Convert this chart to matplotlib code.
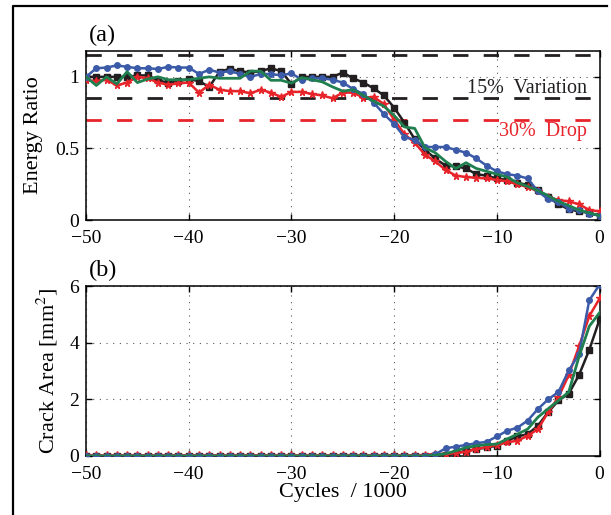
import numpy as np
import matplotlib
matplotlib.use('Agg')
import matplotlib.pyplot as plt
from matplotlib.lines import Line2D

plt.rcParams['font.family'] = ['Liberation Serif', 'DejaVu Serif']
plt.rcParams['mathtext.fontset'] = 'stix'

# Cycles / 1000
cycles = np.arange(-50, 1)

# (a) energy ratio
ratio_blue = [1.00, 1.06, 1.065, 1.08, 1.07, 1.06, 1.06, 1.055, 1.07, 1.065,
              1.065, 1.02, 1.05, 1.03, 1.04, 1.02, 1.00, 1.02, 1.02, 1.01,
              1.025, 0.98, 0.99, 0.99, 0.98, 0.96, 0.915, 0.88, 0.82, 0.74,
              0.67, 0.58, 0.56, 0.51, 0.51, 0.51, 0.49, 0.47, 0.43, 0.38,
              0.34, 0.32, 0.31, 0.29, 0.20, 0.145, 0.125, 0.08, 0.07, 0.045,
              0.03]
ratio_black = [1.00, 1.00, 1.00, 1.00, 1.00, 1.01, 1.01, 0.975, 0.96, 0.97,
               0.985, 0.97, 0.93, 1.036, 1.056, 1.04, 1.03, 1.04, 1.06, 1.04,
               0.95, 1.00, 1.00, 1.00, 1.00, 1.03, 0.99, 0.96, 0.92, 0.87,
               0.785, 0.68, 0.565, 0.49, 0.43, 0.38, 0.375, 0.36, 0.32, 0.31,
               0.29, 0.28, 0.26, 0.245, 0.21, 0.16, 0.11, 0.075, 0.06, 0.05,
               0.03]
ratio_red = [0.976, 0.97, 0.98, 0.94, 0.96, 1.00, 0.99, 0.96, 0.945, 0.955,
             0.96, 0.89, 0.945, 0.91, 0.90, 0.90, 0.885, 0.91, 0.89, 0.86,
             0.895, 0.895, 0.88, 0.87, 0.85, 0.89, 0.89, 0.855, 0.86, 0.81,
             0.70, 0.60, 0.54, 0.456, 0.41, 0.35, 0.31, 0.30, 0.295, 0.29,
             0.28, 0.27, 0.25, 0.23, 0.20, 0.16, 0.14, 0.13, 0.11, 0.07,
             0.06]
ratio_green = [1.00, 0.94, 1.00, 0.95, 1.036, 0.96, 0.985, 1.00, 0.98, 0.98,
               0.98, 0.99, 1.00, 0.99, 0.99, 0.99, 1.04, 1.04, 0.976, 0.976,
               0.956, 0.995, 0.98, 0.965, 0.93, 0.90, 0.91, 0.87, 0.83, 0.795,
               0.73, 0.65, 0.64, 0.505, 0.47, 0.41, 0.36, 0.40, 0.36, 0.34,
               0.32, 0.30, 0.26, 0.235, 0.205, 0.17, 0.13, 0.10, 0.07, 0.05,
               0.03]

# (b) crack area [mm^2]
area_blue = [0.0, 0.0, 0.0, 0.0, 0.0, 0.0, 0.0, 0.0, 0.0, 0.0,
             0.0, 0.0, 0.0, 0.0, 0.0, 0.0, 0.0, 0.0, 0.0, 0.0,
             0.0, 0.0, 0.0, 0.0, 0.0, 0.0, 0.0, 0.0, 0.0, 0.0,
             0.0, 0.0, 0.0, 0.0, 0.06, 0.27, 0.33, 0.39, 0.45, 0.50,
             0.69, 0.89, 1.00, 1.25, 1.66, 2.00, 2.26, 3.02, 3.60, 5.50,
             6.05]
area_red = [0.02, 0.02, 0.02, 0.02, 0.02, 0.02, 0.02, 0.02, 0.02, 0.02,
            0.02, 0.02, 0.02, 0.02, 0.02, 0.02, 0.02, 0.02, 0.02, 0.02,
            0.02, 0.02, 0.02, 0.02, 0.02, 0.02, 0.02, 0.02, 0.02, 0.02,
            0.02, 0.02, 0.03, 0.03, 0.08, 0.07, 0.10, 0.15, 0.24, 0.32,
            0.39, 0.48, 0.54, 0.71, 0.95, 1.55, 2.08, 2.86, 3.87, 4.94,
            5.56]
area_black = [0.0, 0.0, 0.0, 0.0, 0.0, 0.0, 0.0, 0.0, 0.0, 0.0,
              0.0, 0.0, 0.0, 0.0, 0.0, 0.0, 0.0, 0.0, 0.0, 0.0,
              0.0, 0.0, 0.0, 0.0, 0.0, 0.0, 0.0, 0.0, 0.0, 0.0,
              0.0, 0.0, 0.0, 0.0, 0.0, 0.03, 0.10, 0.18, 0.24, 0.30,
              0.36, 0.54, 0.69, 0.77, 1.07, 1.55, 1.96, 2.20, 2.86, 3.75,
              4.82]
area_green = [0.0, 0.0, 0.0, 0.0, 0.0, 0.0, 0.0, 0.0, 0.0, 0.0,
              0.0, 0.0, 0.0, 0.0, 0.0, 0.0, 0.0, 0.0, 0.0, 0.0,
              0.0, 0.0, 0.0, 0.0, 0.0, 0.0, 0.0, 0.0, 0.0, 0.0,
              0.0, 0.0, 0.0, 0.0, 0.03, 0.08, 0.18, 0.30, 0.36, 0.40,
              0.42, 0.60, 0.77, 0.95, 1.37, 1.67, 1.96, 2.26, 3.51, 4.58,
              5.06]

var_band = [0.85, 1.15]
drop_level = 0.7

c_blue = '#3b5ba9'
c_red = '#e8242b'
c_black = '#231f20'
c_green = '#1f7f4f'

fig = plt.figure(figsize=(6.11, 5.15), dpi=100)
ax1 = fig.add_axes([0.1408, 0.5728, 0.8405, 0.328])
ax2 = fig.add_axes([0.1408, 0.1146, 0.8405, 0.330])


def style(ax):
    ax.set_xlim(-50, 0)
    ax.set_xticks([-50, -40, -30, -20, -10, 0])
    ax.grid(True, linestyle=(0, (1, 5)), color='0.35', linewidth=0.8)
    ax.tick_params(direction='in', length=4, width=1, top=True, right=True,
                   labelsize=14)
    ax.tick_params(axis='x', pad=7.5)
    ax.tick_params(axis='y', pad=5)
    for s in ax.spines.values():
        s.set_linewidth(1.1)


def draw(ax, yb, yr, yk, yg):
    ax.plot(cycles, yk, color=c_black, lw=1.8, marker='s', ms=3.8, zorder=3)
    ax.plot(cycles, yr, color=c_red, lw=1.8, marker='*', ms=5.5, zorder=4)
    ax.plot(cycles, yb, color=c_blue, lw=1.8, marker='o', ms=4, zorder=5)
    ax.plot(cycles, yg, color=c_green, lw=2.0, zorder=6)


# (a)
draw(ax1, ratio_blue, ratio_red, ratio_black, ratio_green)
for lvl in var_band:
    ax1.axhline(lvl, color=c_black, lw=2, dashes=(5.5, 5.5), zorder=2)
ax1.axhline(drop_level, color=c_red, lw=2, dashes=(5.5, 5.5), zorder=2)
ax1.set_ylim(0, 1.18)
ax1.set_yticks([0, 0.5, 1])
ax1.set_yticklabels(['0', '0.5', '1'])
style(ax1)
ax1.set_ylabel('Energy Ratio', fontsize=16)
ax1.yaxis.set_label_coords(-0.084, 0.5)
ax1.text(-1.2, 0.92, '15%  Variation', fontsize=14.5, ha='right', va='center',
         color=c_black)
ax1.text(-1.2, 0.62, '30%  Drop', fontsize=14.5, ha='right', va='center',
         color=c_red)
ax1.text(0.005, 1.03, '(a)', transform=ax1.transAxes, fontsize=17.5,
         ha='left', va='bottom')

# (b)
draw(ax2, area_blue, area_red, area_black, area_green)
ax2.set_ylim(0, 6)
ax2.set_yticks([0, 2, 4, 6])
style(ax2)
ax2.set_ylabel('Crack Area [mm$^2$]', fontsize=16)
ax2.yaxis.set_label_coords(-0.05, 0.5)
ax2.set_xlabel('Cycles  / 1000', fontsize=16, labelpad=0)
ax2.text(0.005, 1.03, '(b)', transform=ax2.transAxes, fontsize=17.5,
         ha='left', va='bottom')

# outer frame (left and top only)
fig.add_artist(Line2D([13 / 611, 13 / 611, 607 / 611],
                      [0.0, 1 - 6 / 515, 1 - 6 / 515],
                      transform=fig.transFigure, color='black', lw=1.6))

fig.savefig('out.png', dpi=100)
